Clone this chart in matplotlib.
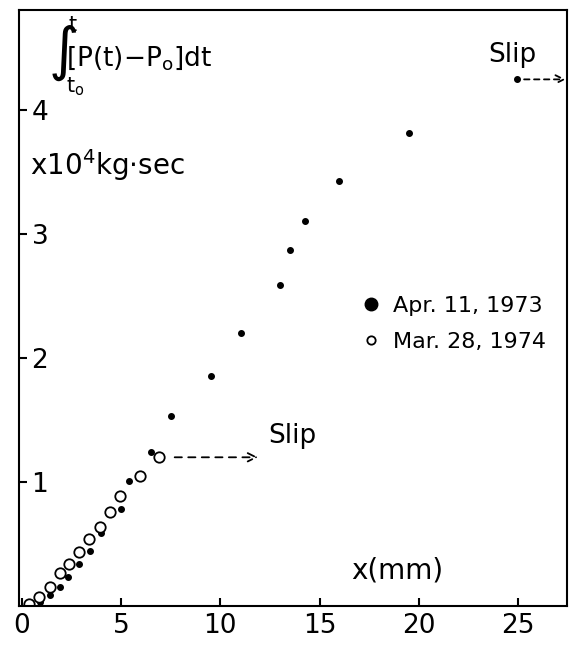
import matplotlib
matplotlib.use("Agg")
import matplotlib.pyplot as plt
from matplotlib.lines import Line2D

# Apr. 11, 1973 (filled dots); last point is where slip started
apr73_x = [0.92, 1.43, 1.93, 2.35, 2.90, 3.44, 3.98, 4.98, 5.42, 6.49,
           7.50, 9.52, 11.03, 12.99, 13.51, 14.28, 15.99, 19.52, 24.96]
apr73_y = [0.035, 0.086, 0.156, 0.236, 0.34, 0.44, 0.59, 0.78, 1.01, 1.24,
           1.53, 1.86, 2.20, 2.59, 2.87, 3.11, 3.43, 3.82, 4.25]

# Mar. 28, 1974 (open circles); last point is where slip started
mar74_x = [0.38, 0.89, 1.43, 1.93, 2.40, 2.90, 3.40, 3.94, 4.45, 4.97, 5.96, 6.90]
mar74_y = [0.016, 0.075, 0.156, 0.269, 0.341, 0.438, 0.538, 0.635, 0.758, 0.887, 1.05, 1.20]

x_ticks = [0, 5, 10, 15, 20, 25]
y_ticks = [1, 2, 3, 4]
series_labels = ["Apr. 11, 1973", "Mar. 28, 1974"]

plt.rcParams['font.family'] = ['DejaVu Sans']
plt.rcParams['mathtext.fontset'] = 'dejavusans'
plt.rcParams['mathtext.default'] = 'regular'

fig = plt.figure(figsize=(5.73, 6.49), dpi=100)
ax = fig.add_axes([0.0332, 0.0663, 0.9563, 0.9183])

ax.plot(apr73_x, apr73_y, ls='none', marker='o', color='black', ms=4)
ax.plot(mar74_x, mar74_y, ls='none', marker='o', mfc='white', mec='black',
        mew=1.3, ms=7.5)

ax.set_xlim(-0.14, 27.46)
ax.set_ylim(0, 4.81)

for s in ax.spines.values():
    s.set_linewidth(1.5)

ax.set_xticks(x_ticks)
ax.set_yticks(y_ticks)
ax.tick_params(direction='in', length=6, width=1.5, labelsize=19)
ax.tick_params(axis='x', pad=5)
ax.tick_params(axis='y', pad=-9)
for lab in ax.get_yticklabels():
    lab.set_horizontalalignment('left')

arrow_style = '->,head_length=0.6,head_width=0.3'

# slip arrows
ax.annotate("", xy=(11.9, mar74_y[-1]), xytext=(7.7, mar74_y[-1]),
            arrowprops=dict(arrowstyle=arrow_style, ls=(0, (4, 3.5)), lw=1.3,
                            color='black', shrinkA=0, shrinkB=0))
ax.text(12.4, 1.37, "Slip", fontsize=19, ha='left', va='center')

ax.annotate("", xy=(27.4, apr73_y[-1]), xytext=(25.3, apr73_y[-1]),
            arrowprops=dict(arrowstyle=arrow_style, ls=(0, (3, 2.5)), lw=1.3,
                            color='black', shrinkA=0, shrinkB=0))
ax.text(24.7, 4.45, "Slip", fontsize=19, ha='center', va='center')

# y-axis title: integral written out piece by piece so the sign is tall
tr = ax.transAxes
ax.text(0.054, 0.928, "\u222b", fontsize=42, transform=tr, ha='left', va='center')
ax.text(0.086, 0.92, r'[P(t)$-$P$_o$]dt', fontsize=19, transform=tr,
        ha='left', va='center')
ax.text(0.090, 0.974, "t", fontsize=15, transform=tr, ha='left', va='center')
ax.text(0.086, 0.872, r't$_o$', fontsize=15, transform=tr, ha='left', va='center')
ax.text(0.02, 0.74, r'x10$^4$kg$\cdot$sec', fontsize=20, transform=tr,
        ha='left', va='center')
ax.text(0.69, 0.059, "x(mm)", fontsize=20, transform=tr, ha='center', va='center')

handles = [
    Line2D([], [], ls='none', marker='o', color='black', ms=9),
    Line2D([], [], ls='none', marker='o', mfc='white', mec='black', mew=1.3, ms=6),
]
ax.legend(handles, series_labels, loc='upper left', bbox_to_anchor=(0.622, 0.52),
          frameon=False, fontsize=16, handlelength=1.0, handletextpad=0.5,
          borderpad=0, borderaxespad=0, labelspacing=0.7)

fig.savefig("out.png", dpi=100)
